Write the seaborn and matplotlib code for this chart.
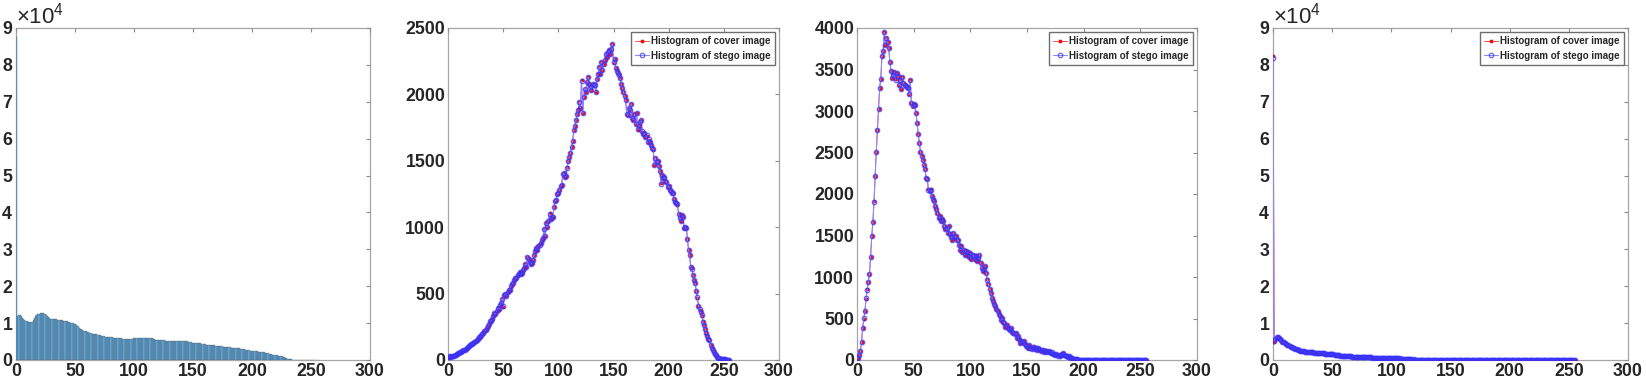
import numpy as np
import pandas as pd
import seaborn as sns
import matplotlib.pyplot as plt
from matplotlib import font_manager
from matplotlib.ticker import ScalarFormatter, MultipleLocator

# grey levels 0..255
levels = list(range(256))

# panel 1: histogram (bars)
hist_counts = [
    87500, 12000, 12200, 12150, 11800, 11300, 11000, 10800, 10600, 10500,
    10400, 10300, 10250, 10400, 10800, 11300, 11800, 12200, 12500, 12600,
    12650, 12700, 12700, 12650, 12500, 12300, 12000, 11600, 11300, 11200,
    11150, 11100, 11050, 11000, 11000, 10950, 10900, 10850, 10800, 10750,
    10700, 10650, 10600, 10500, 10400, 10300, 10100, 9900, 10000, 9700,
    9700, 9400, 9100, 8800, 8500, 8300, 8100, 7950, 7800, 7750,
    7700, 7500, 7350, 7200, 7100, 7050, 7000, 6980, 6960, 6900,
    6850, 6700, 6600, 6450, 6400, 6350, 6300, 6300, 6250, 6200,
    6150, 6100, 6050, 6000, 6000, 5950, 5950, 5900, 5880, 5850,
    5800, 5750, 5700, 5650, 5600, 5650, 5700, 5750, 5800, 5850,
    5850, 5900, 5900, 5900, 5880, 5900, 5920, 5940, 5950, 5960,
    5960, 5980, 6000, 6000, 5950, 5850, 5750, 5650, 5550, 5500,
    5450, 5420, 5420, 5380, 5350, 5300, 5250, 5200, 5180, 5150,
    5150, 5120, 5100, 5100, 5120, 5150, 5150, 5120, 5100, 5080,
    5100, 5150, 5150, 5120, 5100, 5050, 4950, 4850, 4750, 4700,
    4650, 4600, 4580, 4550, 4520, 4500, 4480, 4400, 4350, 4300,
    4250, 4200, 4150, 4100, 4080, 4060, 4040, 4000, 3950, 3900,
    3850, 3800, 3750, 3700, 3680, 3650, 3620, 3600, 3550, 3500,
    3450, 3400, 3350, 3300, 3280, 3250, 3220, 3200, 3180, 3160,
    3100, 3000, 2950, 2850, 2750, 2650, 2600, 2580, 2560, 2540,
    2530, 2500, 2450, 2400, 2350, 2300, 2250, 2200, 2150, 2100,
    2050, 2000, 1950, 1850, 1750, 1650, 1550, 1480, 1420, 1380,
    1350, 1300, 1200, 1100, 1050, 950, 850, 700, 560, 460,
    400, 320, 250, 180, 120, 70, 40, 20, 10, 5,
    3, 2, 1, 0, 0, 0, 0, 0, 0, 0,
    0, 0, 0, 0, 0, 0,
]

# panel 2: cover / stego
cover_2 = [
    25, 22, 28, 25, 30, 28, 38, 35, 45, 50,
    55, 63, 60, 70, 72, 75, 85, 90, 100, 105,
    113, 120, 118, 130, 138, 140, 150, 160, 170, 176,
    185, 195, 205, 215, 226, 240, 255, 270, 289, 295,
    310, 330, 352, 345, 370, 390, 380, 415, 430, 460,
    402, 490, 500, 480, 510, 530, 527, 555, 570, 577,
    600, 620, 615, 640, 650, 660, 645, 653, 680, 690,
    720, 703, 778, 760, 740, 720, 730, 753, 790, 820,
    841, 830, 860, 870, 880, 905, 920, 990, 930, 1029,
    1000, 1050, 1104, 1060, 1080, 1079, 1150, 1200, 1205, 1250,
    1255, 1280, 1310, 1318, 1400, 1406, 1380, 1385, 1450, 1500,
    1531, 1560, 1606, 1650, 1732, 1760, 1807, 1850, 1883, 1940,
    1900, 2108, 1857, 1980, 2043, 2018, 2090, 2131, 2081, 2060,
    2031, 2081, 2068, 2075, 2018, 2118, 2150, 2206, 2156, 2244,
    2181, 2231, 2260, 2307, 2282, 2320, 2332, 2307, 2340, 2382,
    2240, 2270, 2200, 2180, 2160, 2150, 2120, 2080, 2050, 2020,
    1990, 1960, 1850, 1845, 1900, 1880, 1930, 1820, 1810, 1850,
    1780, 1860, 1735, 1760, 1790, 1810, 1720, 1700, 1710, 1680,
    1690, 1640, 1660, 1640, 1620, 1600, 1585, 1470, 1520, 1490,
    1500, 1460, 1420, 1330, 1390, 1370, 1380, 1350, 1340, 1305,
    1310, 1280, 1270, 1260, 1255, 1210, 1190, 1180, 1170, 1100,
    1070, 1050, 1090, 1080, 995, 1000, 995, 910, 830, 790,
    700, 690, 640, 600, 580, 520, 470, 410, 380, 360,
    335, 290, 260, 235, 200, 180, 160, 150, 110, 90,
    75, 60, 45, 35, 25, 18, 12, 10, 8, 5,
    5, 4, 3, 2, 1, 1,
]
stego_2 = [
    24, 23, 28, 26, 30, 29, 37, 36, 45, 51,
    55, 62, 61, 70, 73, 75, 84, 91, 100, 104,
    113, 119, 119, 130, 137, 141, 150, 159, 171, 176,
    185, 194, 206, 215, 225, 241, 255, 269, 290, 295,
    310, 331, 351, 346, 370, 389, 381, 415, 429, 461,
    403, 489, 500, 481, 510, 529, 528, 555, 569, 578,
    600, 619, 616, 640, 649, 661, 645, 654, 679, 691,
    720, 704, 777, 761, 740, 721, 730, 752, 791, 820,
    840, 831, 860, 869, 881, 905, 919, 989, 931, 1028,
    1001, 1050, 1103, 1061, 1080, 1080, 1149, 1200, 1204, 1251,
    1255, 1279, 1311, 1318, 1399, 1405, 1381, 1385, 1449, 1501,
    1530, 1561, 1605, 1651, 1731, 1761, 1806, 1851, 1882, 1941,
    1901, 2100, 1858, 1979, 2044, 2017, 2091, 2130, 2082, 2059,
    2032, 2080, 2069, 2074, 2019, 2117, 2151, 2205, 2157, 2243,
    2182, 2230, 2261, 2306, 2283, 2319, 2333, 2306, 2341, 2378,
    2241, 2269, 2201, 2179, 2161, 2149, 2121, 2079, 2051, 2019,
    1991, 1959, 1851, 1844, 1901, 1879, 1929, 1821, 1809, 1851,
    1779, 1859, 1736, 1759, 1791, 1809, 1721, 1699, 1711, 1679,
    1691, 1639, 1661, 1639, 1621, 1599, 1586, 1469, 1521, 1489,
    1501, 1459, 1421, 1329, 1391, 1369, 1381, 1349, 1341, 1304,
    1311, 1279, 1271, 1259, 1256, 1209, 1191, 1179, 1171, 1099,
    1071, 1049, 1091, 1079, 996, 999, 996, 909, 831, 789,
    701, 689, 641, 599, 581, 519, 471, 409, 381, 359,
    336, 289, 261, 234, 201, 179, 161, 149, 111, 89,
    76, 59, 46, 34, 26, 17, 13, 9, 8, 6,
    4, 5, 3, 2, 2, 1,
]

# panel 3: cover / stego
cover_3 = [
    20, 30, 60, 110, 215, 390, 500, 590, 740, 850,
    940, 1040, 1240, 1490, 1660, 1910, 2220, 2510, 2770, 3020,
    3280, 3390, 3660, 3720, 3950, 3800, 3880, 3830, 3760, 3590,
    3480, 3400, 3440, 3470, 3380, 3460, 3420, 3310, 3380, 3270,
    3410, 3340, 3320, 3300, 3290, 3280, 3200, 3370, 3100, 3060,
    3080, 3070, 2980, 2860, 2720, 2620, 2510, 2455, 2410, 2355,
    2300, 2195, 2175, 2055, 2035, 2055, 1975, 1935, 1915, 1860,
    1815, 1775, 1715, 1735, 1675, 1695, 1675, 1615, 1575, 1595,
    1535, 1615, 1515, 1485, 1450, 1535, 1475, 1495, 1450, 1450,
    1390, 1330, 1370, 1300, 1330, 1270, 1310, 1270, 1300, 1245,
    1290, 1220, 1270, 1250, 1210, 1260, 1190, 1230, 1270, 1170,
    1110, 1070, 1090, 1130, 1050, 970, 910, 860, 810, 750,
    710, 670, 650, 620, 590, 560, 530, 480, 510, 460,
    450, 400, 420, 390, 370, 360, 390, 340, 330, 310,
    330, 270, 290, 250, 200, 230, 210, 230, 190, 175,
    170, 150, 175, 140, 130, 160, 150, 135, 145, 120,
    140, 130, 110, 120, 125, 100, 110, 115, 95, 105,
    90, 80, 90, 75, 70, 60, 75, 55, 65, 50,
    60, 70, 80, 60, 50, 55, 40, 45, 30, 25,
    20, 15, 10, 10, 8, 5, 5, 3, 2, 2,
    1, 1, 1, 0, 1, 0, 0, 0, 0, 0,
    0, 0, 0, 0, 0, 0, 0, 0, 0, 0,
    0, 0, 0, 0, 0, 0, 0, 0, 0, 0,
    0, 0, 0, 0, 0, 0, 0, 0, 0, 0,
    0, 0, 0, 0, 0, 0, 0, 0, 0, 0,
    0, 0, 0, 0, 0, 0,
]
stego_3 = [
    21, 30, 61, 109, 216, 389, 501, 589, 741, 849,
    941, 1039, 1241, 1489, 1661, 1909, 2221, 2509, 2771, 3019,
    3281, 3389, 3661, 3719, 3948, 3801, 3879, 3831, 3759, 3591,
    3479, 3401, 3439, 3471, 3379, 3461, 3419, 3311, 3379, 3271,
    3409, 3341, 3319, 3301, 3289, 3281, 3199, 3369, 3101, 3059,
    3081, 3069, 2981, 2859, 2721, 2619, 2511, 2454, 2411, 2354,
    2301, 2194, 2176, 2054, 2036, 2054, 1976, 1934, 1916, 1859,
    1816, 1774, 1716, 1734, 1676, 1694, 1676, 1614, 1576, 1594,
    1536, 1614, 1516, 1484, 1451, 1534, 1476, 1494, 1451, 1449,
    1391, 1329, 1371, 1299, 1331, 1269, 1311, 1269, 1301, 1244,
    1291, 1219, 1271, 1249, 1211, 1259, 1191, 1229, 1271, 1169,
    1111, 1069, 1091, 1129, 1051, 969, 911, 859, 811, 749,
    711, 669, 651, 619, 591, 559, 531, 479, 511, 459,
    451, 399, 421, 389, 371, 359, 391, 339, 331, 309,
    331, 269, 291, 249, 201, 229, 211, 229, 191, 174,
    171, 149, 176, 139, 131, 159, 151, 134, 146, 119,
    141, 129, 111, 119, 126, 99, 111, 114, 96, 104,
    91, 79, 91, 74, 71, 59, 76, 54, 66, 49,
    61, 69, 81, 59, 51, 54, 41, 44, 31, 24,
    21, 14, 11, 9, 8, 6, 4, 3, 2, 2,
    1, 1, 0, 1, 0, 0, 0, 0, 0, 0,
    0, 0, 0, 0, 0, 0, 0, 0, 0, 0,
    0, 0, 0, 0, 0, 0, 0, 0, 0, 0,
    0, 0, 0, 0, 0, 0, 0, 0, 0, 0,
    0, 0, 0, 0, 0, 0, 0, 0, 0, 0,
    0, 0, 0, 0, 0, 0,
]

# panel 4: cover / stego
cover_4 = [
    82300, 5000, 5800, 6100, 6150, 5900, 5600, 5300, 5000, 4800,
    4600, 4400, 4200, 4000, 3800, 3600, 3450, 3300, 3150, 3000,
    2850, 2700, 2600, 2500, 2450, 2400, 2350, 2300, 2260, 2220,
    2180, 2150, 2120, 2100, 2050, 2000, 2000, 1980, 1950, 1900,
    1880, 1850, 1820, 1800, 1750, 1700, 1680, 1650, 1630, 1600,
    1550, 1500, 1450, 1400, 1350, 1300, 1250, 1200, 1150, 1100,
    1080, 1060, 1040, 1020, 1000, 980, 960, 940, 920, 900,
    900, 880, 860, 840, 820, 800, 790, 780, 760, 740,
    720, 700, 690, 680, 660, 650, 640, 620, 610, 600,
    590, 580, 570, 560, 550, 545, 540, 530, 520, 510,
    500, 490, 480, 470, 460, 440, 420, 400, 380, 370,
    360, 340, 300, 260, 220, 180, 160, 150, 140, 130,
    130, 125, 120, 118, 115, 112, 110, 108, 105, 102,
    100, 98, 95, 92, 90, 88, 85, 82, 80, 78,
    75, 72, 70, 68, 66, 64, 62, 60, 120, 58,
    56, 54, 52, 50, 80, 48, 46, 130, 44, 42,
    40, 60, 38, 36, 34, 32, 30, 28, 27, 26,
    25, 24, 23, 22, 21, 20, 19, 18, 17, 16,
    15, 14, 13, 12, 11, 10, 10, 9, 9, 8,
    8, 7, 7, 6, 6, 5, 5, 5, 4, 4,
    4, 4, 3, 3, 3, 3, 3, 2, 2, 2,
    2, 2, 2, 2, 1, 1, 1, 1, 1, 1,
    1, 1, 1, 1, 1, 1, 1, 1, 1, 1,
    1, 1, 1, 1, 1, 0, 0, 0, 0, 0,
    0, 0, 0, 0, 0, 0, 0, 0, 0, 0,
    0, 0, 0, 0, 0, 0,
]
stego_4 = [
    82000, 5100, 5800, 6100, 6140, 5910, 5600, 5290, 5010, 4800,
    4590, 4410, 4200, 3990, 3810, 3600, 3440, 3310, 3150, 2990,
    2860, 2700, 2590, 2510, 2450, 2390, 2360, 2300, 2250, 2230,
    2180, 2140, 2130, 2100, 2040, 2010, 2000, 1970, 1960, 1900,
    1870, 1860, 1820, 1790, 1760, 1700, 1670, 1660, 1630, 1590,
    1560, 1500, 1440, 1410, 1350, 1290, 1260, 1200, 1140, 1110,
    1080, 1050, 1050, 1020, 990, 990, 960, 930, 930, 900,
    890, 890, 860, 830, 830, 800, 780, 790, 760, 730,
    730, 700, 680, 690, 660, 640, 650, 620, 600, 610,
    590, 570, 580, 560, 540, 555, 540, 520, 530, 510,
    490, 500, 480, 460, 470, 440, 410, 410, 380, 360,
    370, 340, 290, 270, 220, 170, 170, 150, 130, 140,
    130, 115, 130, 118, 105, 122, 110, 98, 115, 102,
    90, 108, 95, 82, 100, 88, 75, 92, 80, 68,
    85, 72, 60, 78, 66, 54, 72, 60, 110, 48,
    66, 54, 42, 60, 70, 38, 56, 120, 34, 52,
    40, 50, 48, 26, 44, 32, 20, 38, 27, 16,
    35, 24, 13, 32, 21, 10, 29, 18, 7, 26,
    15, 4, 23, 12, 1, 20, 10, 0, 19, 8,
    0, 17, 7, 0, 16, 5, 0, 15, 4, 0,
    14, 4, 0, 13, 3, 0, 13, 2, 0, 12,
    2, 0, 12, 2, 0, 11, 1, 0, 11, 1,
    0, 11, 1, 0, 11, 1, 0, 11, 1, 0,
    11, 1, 0, 11, 1, 0, 10, 0, 0, 10,
    0, 0, 10, 0, 0, 10, 0, 0, 10, 0,
    0, 10, 0, 0, 10, 0,
]

for s in [hist_counts, cover_2, stego_2, cover_3, stego_3, cover_4, stego_4]:
    assert len(s) == 256, len(s)

legend_labels = ["Histogram of cover image", "Histogram of stego image"]

sns.set_style("white")
plt.rcParams["font.family"] = ["Liberation Sans", "DejaVu Sans"]
plt.rcParams["mathtext.default"] = "regular"

# legend text is a narrow bold face in the original
installed = {f.name for f in font_manager.fontManager.ttflist}
if "Liberation Sans Narrow" in installed:
    legend_font = {"family": "Liberation Sans Narrow", "weight": "bold", "size": 8}
else:
    legend_font = {"family": "Liberation Sans", "weight": "bold", "size": 7}

fig = plt.figure(figsize=(16.46, 3.84), dpi=100)
W, H = 1646, 384
boxes = [(16, 370), (448, 779), (857, 1197), (1273, 1628)]
axes = [fig.add_axes([l / W, 1 - 360 / H, (r - l) / W, 332 / H]) for l, r in boxes]


def style_axis(ax, ymax, ystep, sci=False):
    ax.set_xlim(0, 300)
    ax.set_ylim(0, ymax)
    ax.xaxis.set_major_locator(MultipleLocator(50))
    ax.yaxis.set_major_locator(MultipleLocator(ystep))
    ax.tick_params(direction="in", length=3, width=0.8, color="#8c8c8c",
                   top=True, right=True, labelsize=12.8, pad=2)
    for lab in ax.get_xticklabels() + ax.get_yticklabels():
        lab.set_fontweight("bold")
    for sp in ax.spines.values():
        sp.set_color("#a6a6a6")
        sp.set_linewidth(0.9)
        sp.set_zorder(0.5)
    ax.set_xlabel("")
    ax.set_ylabel("")
    if sci:
        fmt = ScalarFormatter(useMathText=True)
        fmt.set_powerlimits((0, 0))
        ax.yaxis.set_major_formatter(fmt)
        ax.yaxis.get_offset_text().set_fontsize(16)


# panel 1: bar histogram
df1 = pd.DataFrame({"level": levels, "count": hist_counts})
sns.histplot(data=df1, x="level", weights="count", binwidth=1, binrange=(0, 256),
             color="#66b2e8", edgecolor="#3c3c3c", linewidth=0.18, alpha=1,
             ax=axes[0])
style_axis(axes[0], 90000, 10000, sci=True)

# panels 2-4: cover vs stego lines
line_sets = [(cover_2, stego_2, 2500, 500, False),
             (cover_3, stego_3, 4000, 500, False),
             (cover_4, stego_4, 90000, 10000, True)]
for ax, (cov, stg, ymax, ystep, sci) in zip(axes[1:], line_sets):
    df = pd.DataFrame({"level": levels, "cover": cov, "stego": stg})
    sns.lineplot(data=df, x="level", y="cover", color="#ff5050", lw=0.7,
                 marker="o", markersize=2.0, markerfacecolor="red",
                 markeredgecolor="red", label=legend_labels[0], ax=ax)
    sns.lineplot(data=df, x="level", y="stego", color="#8a8aff", lw=0.8,
                 marker="o", markersize=3.2, markerfacecolor="none",
                 markeredgecolor=(0.2, 0.2, 1.0, 0.75), markeredgewidth=0.9,
                 label=legend_labels[1], ax=ax)
    style_axis(ax, ymax, ystep, sci=sci)
    leg = ax.legend(loc="upper right", fancybox=False, framealpha=1,
                    edgecolor="#6e6e6e", borderaxespad=0.45, handlelength=1.5,
                    handletextpad=0.2, borderpad=0.4, labelspacing=0.45,
                    prop=legend_font)
    leg.get_frame().set_linewidth(1.0)

fig.savefig("out.png", dpi=100)
